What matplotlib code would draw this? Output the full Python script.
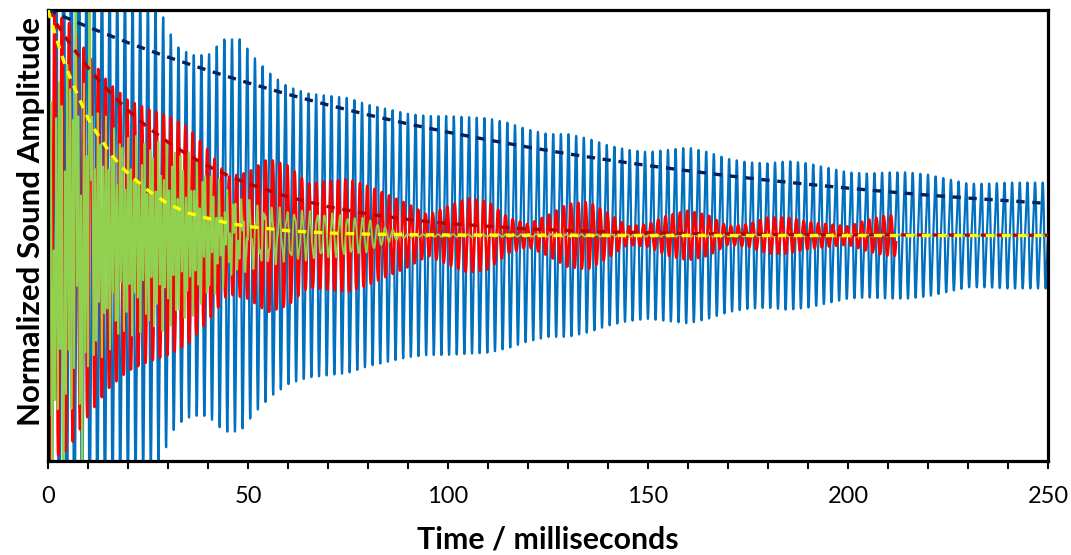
import numpy as np
import matplotlib
matplotlib.use("Agg")
import matplotlib.pyplot as plt
from matplotlib.ticker import MultipleLocator

plt.rcParams['font.family'] = ['Lato', 'DejaVu Sans']

# ---------------- data ----------------
x_ticks = [0, 50, 100, 150, 200, 250]

# Blue waveform: peak envelope (normalised amplitude) at sample times (ms)
blue_env_t = [0, 5, 10, 15, 20, 25, 28, 32, 36, 40, 44, 48, 52, 56, 60, 65, 70, 75, 80, 85,
              90, 95, 100, 110, 115, 120, 125, 130, 135, 140, 145, 150, 155, 160, 165, 170,
              175, 180, 185, 190, 195, 200, 205, 210, 215, 220, 225, 230, 235, 240, 245, 250]
blue_env = [1.5, 1.5, 1.3, 1.15, 1.1, 1.05, 1.0, 0.84, 0.8, 0.8, 0.87, 0.87, 0.78, 0.71, 0.66,
            0.63, 0.62, 0.61, 0.58, 0.56, 0.54, 0.53, 0.53, 0.52, 0.5, 0.47, 0.45, 0.45, 0.43,
            0.40, 0.38, 0.37, 0.38, 0.39, 0.37, 0.34, 0.325, 0.32, 0.33, 0.32, 0.30, 0.28,
            0.275, 0.28, 0.28, 0.27, 0.25, 0.23, 0.23, 0.235, 0.235, 0.235]
blue_freq_khz = 0.523
blue_harmonic2 = 0.25

# Red waveform: peak envelope
red_env_t = [0, 5, 10, 15, 20, 25, 30, 35, 40, 45, 50, 55, 60, 65, 70, 75, 80, 85, 90, 95,
             100, 105, 110, 115, 120, 125, 130, 135, 140, 145, 150, 155, 160, 165, 170, 175,
             180, 185, 190, 195, 200, 205, 210, 212]
red_env = [1.0, 0.95, 0.8, 0.68, 0.6, 0.56, 0.53, 0.48, 0.38, 0.26, 0.28, 0.34, 0.31, 0.23,
           0.24, 0.25, 0.22, 0.18, 0.14, 0.09, 0.13, 0.165, 0.15, 0.08, 0.05, 0.09, 0.14,
           0.15, 0.10, 0.04, 0.05, 0.09, 0.11, 0.09, 0.04, 0.05, 0.08, 0.08, 0.06, 0.05,
           0.04, 0.07, 0.09, 0.09]
red_freq_khz = 0.550

# Green waveform: high-frequency band envelope, low-frequency envelope, early spikes
green_hf_t = [0, 5, 8, 10, 15, 20, 30, 35, 40, 45, 50, 55, 60, 80, 90, 250]
green_hf_env = [0.65, 0.65, 0.6, 0.47, 0.38, 0.32, 0.3, 0.26, 0.19, 0.11, 0.05, 0.03,
                0.02, 0.005, 0.0, 0.0]
green_hf_freq_khz = 1.45
green_lf_t = [0, 10, 14, 20, 30, 40, 45, 50, 60, 70, 80, 85, 90, 250]
green_lf_env = [0.15, 0.15, 0.14, 0.13, 0.12, 0.11, 0.1, 0.11, 0.10, 0.09, 0.07, 0.03, 0.006,
                0.004]
green_lf_freq_khz = 0.530
green_spike_t = [1.3, 3.8, 7.0, 8.5, 10.5]
green_spike_amp = [-1.1, -1.1, 0.75, -0.75, 1.1]

# Dashed decay envelopes
navy_t = [0, 10, 20, 30, 40, 50, 60, 70, 80, 90, 100, 110, 120, 130, 140, 150, 160, 170,
          180, 190, 200, 210, 220, 230, 240, 250]
navy_env = [1.0, 0.925, 0.855, 0.791, 0.732, 0.677, 0.626, 0.579, 0.535, 0.495, 0.458,
            0.424, 0.392, 0.362, 0.335, 0.310, 0.287, 0.265, 0.245, 0.227, 0.210, 0.194,
            0.179, 0.166, 0.154, 0.142]
reddash_t = [0, 2, 4, 6, 8, 10, 13, 16, 20, 25, 30, 35, 40, 45, 50, 60, 70, 80, 90, 100,
             120, 140, 160, 180, 200, 250]
reddash_env = [1.0, 0.943, 0.889, 0.838, 0.790, 0.745, 0.682, 0.625, 0.555, 0.479, 0.414,
               0.357, 0.308, 0.266, 0.230, 0.171, 0.128, 0.095, 0.071, 0.053, 0.029,
               0.016, 0.009, 0.005, 0.003, 0.001]
yellow_t = [0, 2, 4, 6, 8, 10, 12, 15, 18, 21, 25, 30, 35, 40, 45, 50, 60, 70, 80, 100, 150, 250]
yellow_env = [1.0, 0.88, 0.77, 0.68, 0.60, 0.52, 0.46, 0.38, 0.31, 0.26, 0.20, 0.14, 0.10,
              0.076, 0.055, 0.040, 0.021, 0.011, 0.006, 0.002, 0.0, 0.0]

# ---------------- build waveforms ----------------
t = np.arange(0, 250.0001, 0.02)
ph = 2 * np.pi * blue_freq_khz * t
shape = np.cos(ph) + blue_harmonic2 * np.sin(2 * ph)
shape /= np.abs(shape).max()
blue = np.interp(t, blue_env_t, blue_env) * shape

tr = t[t <= red_env_t[-1]]
red = np.interp(tr, red_env_t, red_env) * np.cos(2 * np.pi * red_freq_khz * tr + 0.6)

green = (np.interp(t, green_hf_t, green_hf_env) * np.cos(2 * np.pi * green_hf_freq_khz * t)
         + np.interp(t, green_lf_t, green_lf_env) * np.cos(2 * np.pi * green_lf_freq_khz * t + 2.0))
for ts, amp in zip(green_spike_t, green_spike_amp):
    green += amp * np.clip(1 - np.abs(t - ts) / 0.45, 0, None)

# ---------------- plot ----------------
fig = plt.figure(figsize=(10.71, 5.55), dpi=100)
ax = fig.add_axes([48 / 1071, 1 - 461 / 555, 1000 / 1071, 451 / 555])

ax.plot(t, blue, color='#0070C0', lw=1.6, zorder=2)
ax.plot(tr, red, color='#FF0000', lw=1.9, zorder=2.1)
ax.plot(t, green, color='#92D050', lw=1.3, zorder=2.2)

dash = (2.5, 2.3)
ax.plot(navy_t, navy_env, color='#002060', lw=2.4, dashes=dash, zorder=3)
ax.plot(reddash_t, reddash_env, color='#C00000', lw=2.4, dashes=dash, zorder=3)
ax.plot(yellow_t, yellow_env, color='#FFFF00', lw=2.4, dashes=dash, zorder=3.1)

ax.set_xlim(0, 250)
ax.set_ylim(-1, 1)
ax.set_xticks(x_ticks)
ax.set_xticklabels([str(v) for v in x_ticks])
ax.xaxis.set_minor_locator(MultipleLocator(10))
ax.set_yticks([])
ax.tick_params(axis='x', which='both', direction='out', length=6, width=1.5,
               labelsize=17, pad=12, colors='black')

for s in ax.spines.values():
    s.set_linewidth(2.3)
    s.set_color('black')

ax.set_xlabel('Time / milliseconds', fontsize=21.8, fontweight='bold', labelpad=13)
ax.set_ylabel('Normalized Sound Amplitude', fontsize=22.5, fontweight='bold')
ax.yaxis.set_label_coords(-0.003, 0.53)

fig.savefig('out.png', dpi=100)
